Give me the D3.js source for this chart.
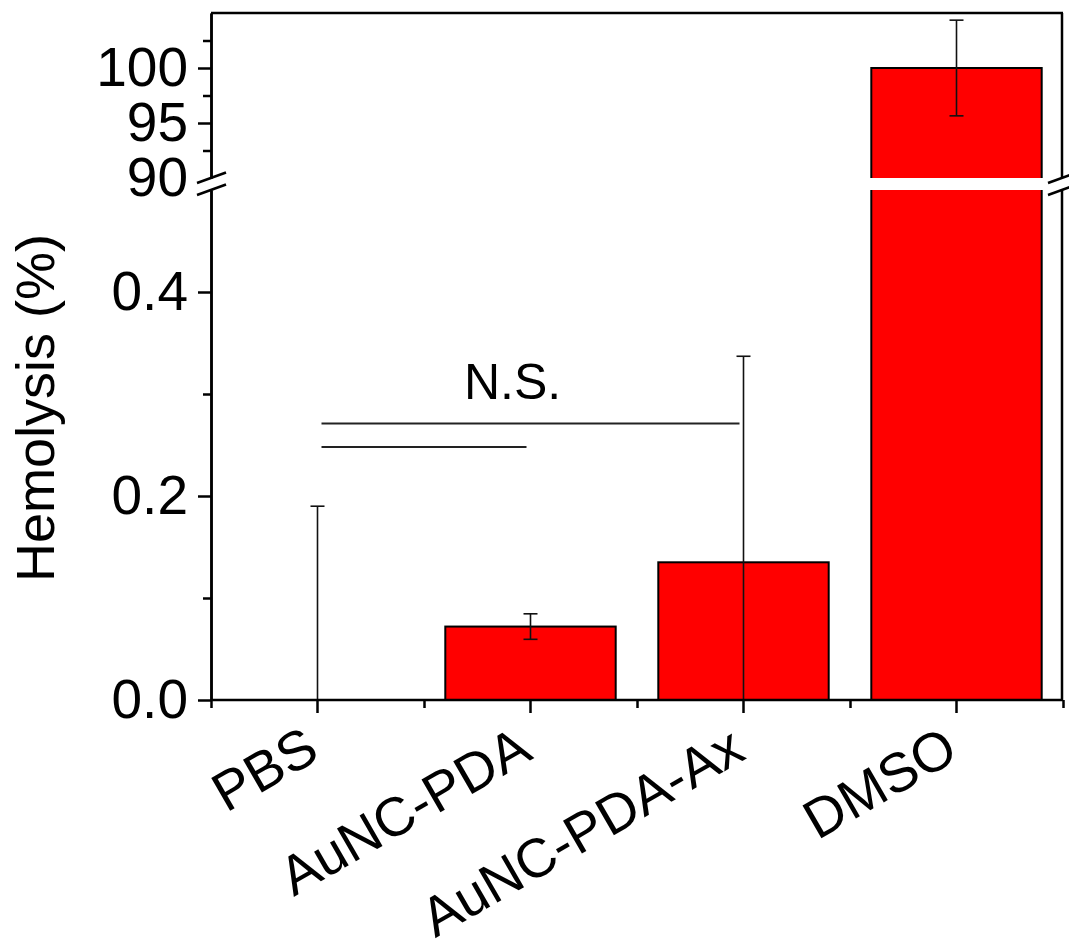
<!DOCTYPE html>
<html lang="en">
<head>
    <meta charset="UTF-8">
    <title>Hemolysis</title>
    <script src="https://cdn.jsdelivr.net/npm/d3@7/dist/d3.min.js"></script>
    <style>
        body { margin: 0; background: #fff; }
        svg { display: block; font-family: "Liberation Sans", Arial, sans-serif; }
    </style>
</head>
<body>
    <div class="container"></div>
    <script>
        // data
        const categories = ["PBS", "AuNC-PDA", "AuNC-PDA-Ax", "DMSO"]
        const means = [0, 0.072, 0.135, 100]
        const errors = [0.19, 0.0125, 0.202, 4.35]

        const lowTicks = [0.0, 0.2, 0.4]
        const lowMinor = [0.1, 0.3]
        const highTicks = [90, 95, 100]
        const highMinor = [92.5, 97.5, 102.5]

        // N.S. brackets
        const brackets = [
            { from: "PBS", to: "AuNC-PDA", y: 0.248 },
            { from: "PBS", to: "AuNC-PDA-Ax", y: 0.271 }
        ]

        const W = 1069, H = 949
        const plotLeft = 211, plotRight = 1062, plotTop = 13, plotBottom = 700

        const svg = d3.select(".container").append("svg")
            .attr("width", W).attr("height", H)

        const x = d3.scaleBand().domain(categories)
            .range([plotLeft, plotRight + 1]).paddingInner(0.2).paddingOuter(0.1)
        const xc = c => x(c) + x.bandwidth() / 2

        // broken y axis: two linear segments
        const yLow = d3.scaleLinear().domain([0, 0.5]).range([plotBottom, 190])
        const yHigh = d3.scaleLinear().domain([90, 105]).range([178, plotTop])
        const yPos = v => v >= 90 ? yHigh(v) : yLow(Math.max(0, Math.min(v, 0.5)))

        // bars
        svg.append("g").selectAll("rect")
            .data(categories)
            .join("rect")
            .attr("x", c => x(c))
            .attr("width", x.bandwidth())
            .attr("y", (c, i) => yPos(means[i]))
            .attr("height", (c, i) => yLow(0) - yPos(means[i]))
            .attr("fill", "#ff0000")
            .attr("stroke", "#000")
            .attr("stroke-width", 2)
            .style("display", (c, i) => means[i] > 0 ? null : "none")

        // white gap of the break
        svg.append("rect")
            .attr("x", plotLeft + 2).attr("width", plotRight - plotLeft + 20)
            .attr("y", yHigh(90)).attr("height", yLow(0.5) - yHigh(90))
            .attr("fill", "#fff")

        // error bars
        const eb = svg.append("g").attr("stroke", "#111").attr("stroke-width", 1.6)
        categories.forEach((c, i) => {
            const hi = means[i] + errors[i]
            const lo = means[i] - errors[i]
            const cx = xc(c)
            eb.append("line").attr("x1", cx).attr("x2", cx)
                .attr("y1", yPos(hi)).attr("y2", yPos(lo))
            eb.append("line").attr("x1", cx - 7).attr("x2", cx + 7)
                .attr("y1", yPos(hi)).attr("y2", yPos(hi))
            if (lo > 0) {
                eb.append("line").attr("x1", cx - 7).attr("x2", cx + 7)
                    .attr("y1", yPos(lo)).attr("y2", yPos(lo))
            }
        })

        // axes
        const styleAxis = g => {
            g.selectAll(".domain").attr("stroke-width", 2.5)
            g.selectAll(".tick line").attr("stroke-width", 2.5)
            g.selectAll("text").attr("font-size", 55).attr("font-family", "Liberation Sans, Arial, sans-serif").attr("fill", "#000")
        }

        svg.append("g").attr("transform", `translate(${plotLeft},0)`)
            .call(d3.axisLeft(yLow).tickValues(lowTicks).tickFormat(d3.format(".1f"))
                .tickSize(13).tickSizeOuter(0).tickPadding(10))
            .call(styleAxis)
        svg.append("g").attr("transform", `translate(${plotLeft},0)`)
            .call(d3.axisLeft(yLow).tickValues(lowMinor).tickFormat("").tickSize(8).tickSizeOuter(0))
            .call(styleAxis)

        svg.append("g").attr("transform", `translate(${plotLeft},0)`)
            .call(d3.axisLeft(yHigh).tickValues(highTicks).tickFormat(d3.format("d"))
                .tickSize(13).tickSizeOuter(0).tickPadding(10))
            .call(styleAxis)
            .call(g => g.selectAll(".tick").filter(d => d === 90).select("line").remove())
        svg.append("g").attr("transform", `translate(${plotLeft},0)`)
            .call(d3.axisLeft(yHigh).tickValues(highMinor).tickFormat("").tickSize(8).tickSizeOuter(0))
            .call(styleAxis)

        // right frame
        svg.append("line").attr("x1", plotRight).attr("x2", plotRight).attr("y1", plotTop).attr("y2", yHigh(90))
            .attr("stroke", "#000").attr("stroke-width", 2.5)
        svg.append("line").attr("x1", plotRight).attr("x2", plotRight).attr("y1", yLow(0.5)).attr("y2", plotBottom)
            .attr("stroke", "#000").attr("stroke-width", 2.5)
        // top frame
        svg.append("line").attr("x1", plotLeft).attr("x2", plotRight + 1).attr("y1", plotTop).attr("y2", plotTop)
            .attr("stroke", "#000").attr("stroke-width", 2.5)

        // bottom axis
        const xAxis = svg.append("g").attr("transform", `translate(0,${plotBottom})`)
            .call(d3.axisBottom(x).tickSize(13).tickSizeOuter(0).tickPadding(0))
            .call(styleAxis)
        xAxis.select(".domain").attr("d", `M${plotLeft},0H${plotRight + 1}`)
        xAxis.selectAll(".tick text")
            .attr("text-anchor", "end")
            .attr("x", 4).attr("y", 58).attr("dy", 0)
            .attr("transform", "rotate(-30,4,58)")

        const xMinor = d3.scaleLinear().domain([0, categories.length]).range([plotLeft, plotRight + 1])
        svg.append("g").attr("transform", `translate(0,${plotBottom})`)
            .call(d3.axisBottom(xMinor).tickValues(d3.range(categories.length + 1)).tickFormat("").tickSize(8).tickSizeOuter(0))
            .call(styleAxis)
            .call(g => g.select(".domain").remove())

        // break marks
        const brk = svg.append("g").attr("stroke", "#000").attr("stroke-width", 2.5)
        ;[plotLeft, plotRight].forEach(ax => {
            [yHigh(90), yLow(0.5)].forEach(yy => {
                brk.append("line")
                    .attr("x1", ax - 14).attr("y1", yy + 5)
                    .attr("x2", ax + 15).attr("y2", yy - 5.5)
            })
        })

        // significance brackets
        svg.append("g").selectAll("line")
            .data(brackets)
            .join("line")
            .attr("x1", d => xc(d.from) + 4)
            .attr("x2", d => xc(d.to) - 4)
            .attr("y1", d => yLow(d.y)).attr("y2", d => yLow(d.y))
            .attr("stroke", "#222").attr("stroke-width", 2)

        svg.append("text")
            .attr("x", (xc("PBS") + xc("AuNC-PDA-Ax")) / 2 - 18)
            .attr("y", yLow(0.295))
            .attr("text-anchor", "middle")
            .attr("font-size", 50)
            .text("N.S.")

        // y label
        svg.append("text")
            .attr("transform", "translate(54,408) rotate(-90)")
            .attr("text-anchor", "middle")
            .attr("font-size", 54)
            .text("Hemolysis (%)")
    </script>
</body>
</html>
